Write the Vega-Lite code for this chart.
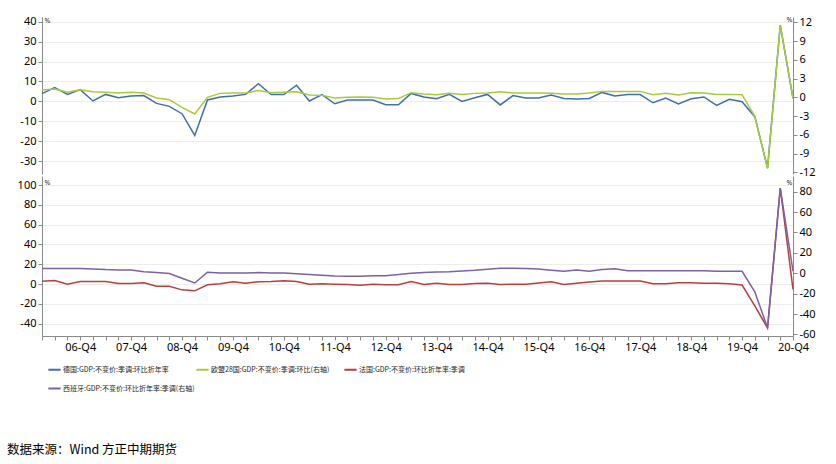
{
  "$schema": "https://vega.github.io/schema/vega-lite/v6.json",
  "autosize": {"type": "pad"},
  "padding": {"left": 7, "top": 15, "right": 5, "bottom": 5},
  "background": "white",
  "config": {
    "view": {"stroke": null},
    "axis": {"labelFont": "Noto Sans", "labelFontSize": 11, "labelColor": "#000000", "domainColor": "#8a8a8a", "tickColor": "#8a8a8a", "tickSize": 4, "labelPadding": 2, "titleFont": "Noto Sans", "titleFontWeight": "normal", "titleColor": "#333333"}
  },
  "bounds": "flush",
  "spacing": 2,
  "title": {"text": "数据来源：Wind  方正中期期货", "orient": "bottom", "anchor": "start", "frame": "group", "fontSize": 12.5, "fontWeight": "normal", "font": "Noto Sans CJK SC", "color": "#000000", "offset": 51, "dx": -35},
  "resolve": {"scale": {"color": "shared"}, "legend": {"color": "shared"}},
  "data": {"values": [
    {"q": "06-Q1", "de": 3.9, "eu": 1.17, "fr": 2.9, "es": 4.6},
    {"q": "06-Q2", "de": 6.9, "eu": 1.33, "fr": 3.5, "es": 4.6},
    {"q": "06-Q3", "de": 3.5, "eu": 0.8, "fr": -0.2, "es": 4.6},
    {"q": "06-Q4", "de": 5.9, "eu": 1.22, "fr": 2.5, "es": 4.6},
    {"q": "07-Q1", "de": 0.2, "eu": 0.9, "fr": 2.5, "es": 4.2},
    {"q": "07-Q2", "de": 3.5, "eu": 0.8, "fr": 2.5, "es": 3.6},
    {"q": "07-Q3", "de": 1.8, "eu": 0.69, "fr": 0.5, "es": 3.3},
    {"q": "07-Q4", "de": 2.7, "eu": 0.8, "fr": 0.5, "es": 3.3},
    {"q": "08-Q1", "de": 2.9, "eu": 0.69, "fr": 1.2, "es": 1.6},
    {"q": "08-Q2", "de": -1.0, "eu": -0.1, "fr": -2.2, "es": 0.7},
    {"q": "08-Q3", "de": -2.5, "eu": -0.38, "fr": -2.2, "es": -0.3},
    {"q": "08-Q4", "de": -6.2, "eu": -1.6, "fr": -5.9, "es": -4.9},
    {"q": "09-Q1", "de": -17.1, "eu": -2.67, "fr": -6.9, "es": -9.5},
    {"q": "09-Q2", "de": 0.7, "eu": 0.0, "fr": -0.8, "es": 1.0},
    {"q": "09-Q3", "de": 2.2, "eu": 0.63, "fr": 0.2, "es": 0.3},
    {"q": "09-Q4", "de": 2.7, "eu": 0.69, "fr": 2.2, "es": 0.3},
    {"q": "10-Q1", "de": 3.5, "eu": 0.69, "fr": 0.8, "es": 0.3},
    {"q": "10-Q2", "de": 8.9, "eu": 1.1, "fr": 2.2, "es": 0.7},
    {"q": "10-Q3", "de": 3.4, "eu": 0.74, "fr": 2.5, "es": 0.3},
    {"q": "10-Q4", "de": 3.4, "eu": 0.8, "fr": 3.2, "es": 0.3},
    {"q": "11-Q1", "de": 8.1, "eu": 0.9, "fr": 2.6, "es": -0.5},
    {"q": "11-Q2", "de": 0.2, "eu": 0.37, "fr": -0.2, "es": -1.3},
    {"q": "11-Q3", "de": 3.4, "eu": 0.31, "fr": 0.2, "es": -2.0},
    {"q": "11-Q4", "de": -1.2, "eu": -0.1, "fr": -0.2, "es": -2.6},
    {"q": "12-Q1", "de": 0.7, "eu": 0.0, "fr": -0.5, "es": -2.9},
    {"q": "12-Q2", "de": 0.7, "eu": 0.05, "fr": -1.2, "es": -2.9},
    {"q": "12-Q3", "de": 0.7, "eu": 0.0, "fr": -0.2, "es": -2.3},
    {"q": "12-Q4", "de": -1.7, "eu": -0.27, "fr": -0.8, "es": -2.3},
    {"q": "13-Q1", "de": -1.7, "eu": -0.2, "fr": -0.8, "es": -1.3},
    {"q": "13-Q2", "de": 4.0, "eu": 0.74, "fr": 2.5, "es": 0.0},
    {"q": "13-Q3", "de": 2.2, "eu": 0.53, "fr": -0.5, "es": 0.7},
    {"q": "13-Q4", "de": 1.3, "eu": 0.42, "fr": 0.8, "es": 1.3},
    {"q": "14-Q1", "de": 3.5, "eu": 0.63, "fr": -0.5, "es": 1.6},
    {"q": "14-Q2", "de": 0.0, "eu": 0.47, "fr": -0.5, "es": 2.3},
    {"q": "14-Q3", "de": 1.8, "eu": 0.63, "fr": 0.5, "es": 2.9},
    {"q": "14-Q4", "de": 3.5, "eu": 0.69, "fr": 0.8, "es": 3.9},
    {"q": "15-Q1", "de": -1.8, "eu": 0.9, "fr": -0.5, "es": 4.9},
    {"q": "15-Q2", "de": 2.9, "eu": 0.69, "fr": -0.2, "es": 4.9},
    {"q": "15-Q3", "de": 1.7, "eu": 0.69, "fr": -0.2, "es": 4.6},
    {"q": "15-Q4", "de": 1.7, "eu": 0.69, "fr": 1.0, "es": 4.2},
    {"q": "16-Q1", "de": 3.2, "eu": 0.65, "fr": 2.4, "es": 3.0},
    {"q": "16-Q2", "de": 1.5, "eu": 0.53, "fr": -0.5, "es": 1.9},
    {"q": "16-Q3", "de": 1.2, "eu": 0.53, "fr": 0.7, "es": 3.2},
    {"q": "16-Q4", "de": 1.5, "eu": 0.69, "fr": 2.0, "es": 1.9},
    {"q": "17-Q1", "de": 4.5, "eu": 0.95, "fr": 3.0, "es": 3.6},
    {"q": "17-Q2", "de": 2.7, "eu": 0.95, "fr": 3.0, "es": 4.5},
    {"q": "17-Q3", "de": 3.4, "eu": 0.95, "fr": 3.0, "es": 2.6},
    {"q": "17-Q4", "de": 3.4, "eu": 0.95, "fr": 3.0, "es": 2.6},
    {"q": "18-Q1", "de": -0.7, "eu": 0.42, "fr": 0.3, "es": 2.6},
    {"q": "18-Q2", "de": 1.7, "eu": 0.63, "fr": 0.3, "es": 2.6},
    {"q": "18-Q3", "de": -1.3, "eu": 0.37, "fr": 1.3, "es": 2.6},
    {"q": "18-Q4", "de": 1.3, "eu": 0.74, "fr": 1.3, "es": 2.6},
    {"q": "19-Q1", "de": 2.2, "eu": 0.69, "fr": 0.7, "es": 2.6},
    {"q": "19-Q2", "de": -2.0, "eu": 0.47, "fr": 0.7, "es": 1.9},
    {"q": "19-Q3", "de": 1.0, "eu": 0.47, "fr": 0.3, "es": 1.9},
    {"q": "19-Q4", "de": -0.2, "eu": 0.42, "fr": -1.0, "es": 1.9},
    {"q": "20-Q1", "de": -7.7, "eu": -3.05, "fr": -22, "es": -18.3},
    {"q": "20-Q2", "de": -33.5, "eu": -11.4, "fr": -44.5, "es": -53.5},
    {"q": "20-Q3", "de": 38.3, "eu": 11.5, "fr": 97, "es": 83.6},
    {"q": "20-Q4", "de": 1.5, "eu": -0.1, "fr": -5.4, "es": 2.0}
  ]},
  "vconcat": [
    {
      "width": 751,
      "height": 157,
      "resolve": {"scale": {"y": "independent"}, "axis": {"y": "independent"}},
      "layer": [
        {
          "mark": {"type": "line", "strokeWidth": 1.5},
          "encoding": {
            "x": {"field": "q", "type": "ordinal", "scale": {"type": "point", "padding": 0}, "axis": null},
            "y": {"field": "de", "type": "quantitative", "scale": {"domain": [-36.5, 42.4], "nice": false, "zero": false},
              "axis": {"orient": "left", "values": [40, 30, 20, 10, 0, -10, -20, -30], "labelExpr": "'' + datum.value", "grid": true, "gridColor": "#ededed", "title": "%", "titleAngle": 0, "titleFontSize": 7, "titleX": 2, "titleY": -1, "titleAlign": "left", "titleBaseline": "top"}},
            "color": {"datum": "德国:GDP:不变价:季调:环比折年率", "type": "nominal",
              "scale": {"domain": ["德国:GDP:不变价:季调:环比折年率", "欧盟28国:GDP:不变价:季调:环比(右轴)", "法国:GDP:不变价:环比折年率:季调", "西班牙:GDP:不变价:环比折年率:季调(右轴)"], "range": ["#3f6fae", "#a9cb3a", "#b5413f", "#7a62a3"]},
              "legend": {"orient": "none", "legendX": 5, "legendY": 345, "direction": "horizontal", "columns": 3, "gridAlign": "all", "title": null, "symbolType": "stroke", "symbolStrokeWidth": 2, "symbolSize": 150, "labelFont": "Noto Sans CJK SC", "labelFontSize": 7, "labelColor": "#222222", "labelOffset": 1, "columnPadding": -14, "rowPadding": 7}}
          }
        },
        {
          "mark": {"type": "line", "strokeWidth": 1.5},
          "encoding": {
            "x": {"field": "q", "type": "ordinal", "scale": {"type": "point", "padding": 0}, "axis": null},
            "y": {"field": "eu", "type": "quantitative", "scale": {"domain": [-12.27, 12.85], "nice": false, "zero": false},
              "axis": {"orient": "right", "values": [12, 9, 6, 3, 0, -3, -6, -9, -12], "labelExpr": "'' + datum.value", "grid": false, "title": "%", "titleAngle": 0, "titleFontSize": 7, "titleX": -7, "titleY": -2, "titleAlign": "left", "titleBaseline": "top"}},
            "color": {"datum": "欧盟28国:GDP:不变价:季调:环比(右轴)", "type": "nominal"}
          }
        }
      ]
    },
    {
      "width": 751,
      "height": 160,
      "resolve": {"scale": {"y": "independent"}, "axis": {"y": "independent"}},
      "layer": [
        {
          "mark": {"type": "line", "strokeWidth": 1.5},
          "encoding": {
            "x": {"field": "q", "type": "ordinal", "scale": {"type": "point", "padding": 0},
              "axis": {"title": null, "labelAngle": 0, "labelOverlap": false, "labelExpr": "indexof(datum.value, 'Q4') >= 0 ? datum.value : ''", "ticks": true, "tickSize": 4, "labelPadding": 1}},
            "y": {"field": "fr", "type": "quantitative", "scale": {"domain": [-52.5, 109.1], "nice": false, "zero": false},
              "axis": {"orient": "left", "values": [100, 80, 60, 40, 20, 0, -20, -40], "labelExpr": "'' + datum.value", "grid": true, "gridColor": "#ededed", "title": "%", "titleAngle": 0, "titleFontSize": 7, "titleX": 2, "titleY": 2, "titleAlign": "left", "titleBaseline": "top"}},
            "color": {"datum": "法国:GDP:不变价:环比折年率:季调", "type": "nominal"}
          }
        },
        {
          "mark": {"type": "line", "strokeWidth": 1.5},
          "encoding": {
            "x": {"field": "q", "type": "ordinal", "scale": {"type": "point", "padding": 0}},
            "y": {"field": "es", "type": "quantitative", "scale": {"domain": [-61.5, 95.4], "nice": false, "zero": false},
              "axis": {"orient": "right", "values": [80, 60, 40, 20, 0, -20, -40, -60], "labelExpr": "'' + datum.value", "grid": false, "title": "%", "titleAngle": 0, "titleFontSize": 7, "titleX": -7, "titleY": 2, "titleAlign": "left", "titleBaseline": "top"}},
            "color": {"datum": "西班牙:GDP:不变价:环比折年率:季调(右轴)", "type": "nominal"}
          }
        }
      ]
    }
  ]
}
